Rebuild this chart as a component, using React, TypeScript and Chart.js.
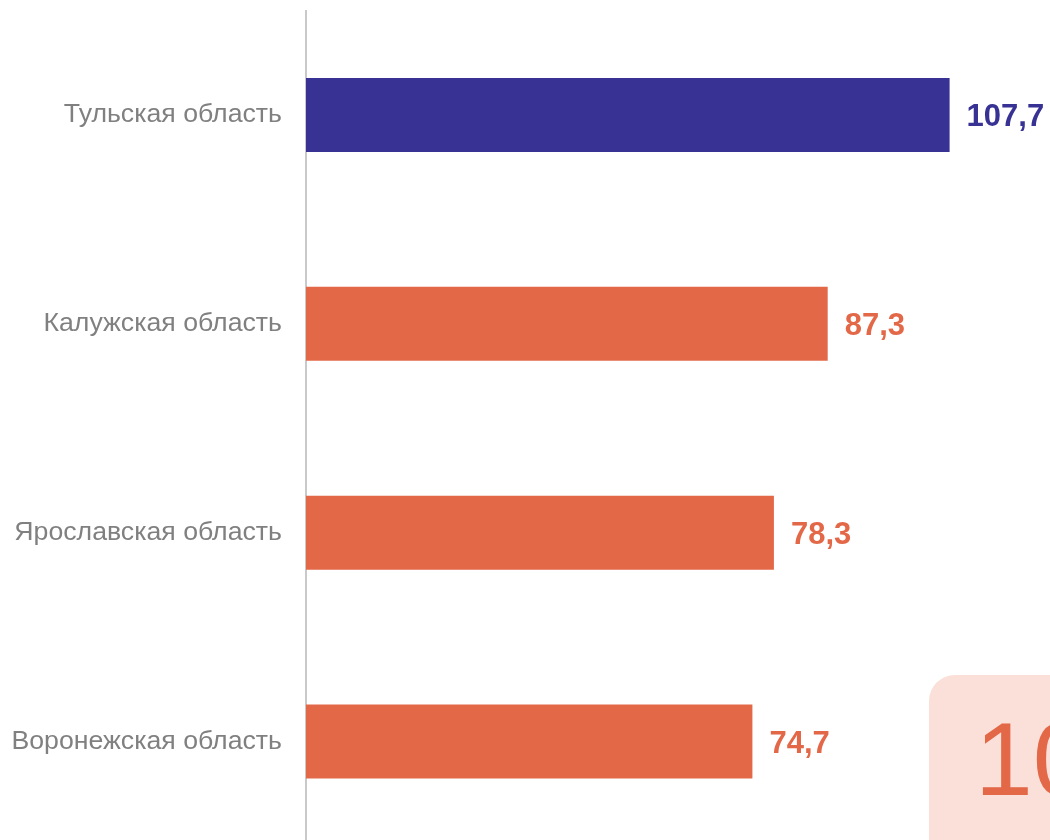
import React, { useEffect, useRef } from "react";
import { Chart, registerables } from "chart.js";

Chart.register(...registerables);

const categories: string[] = [
  "Тульская область",
  "Калужская область",
  "Ярославская область",
  "Воронежская область",
];
const values: number[] = [107.7, 87.3, 78.3, 74.7];
const barColors: string[] = ["#373294", "#e36848", "#e36848", "#e36848"];
const badgeText = "10";

const FONT = '"Liberation Sans", Arial, sans-serif';

const valueLabelPlugin = {
  id: "valueLabels",
  afterDatasetsDraw(chart: any) {
    const ctx = chart.ctx;
    const meta = chart.getDatasetMeta(0);
    ctx.save();
    ctx.font = `bold 31px ${FONT}`;
    ctx.textAlign = "left";
    ctx.textBaseline = "middle";
    meta.data.forEach((bar: any, i: number) => {
      ctx.fillStyle = barColors[i];
      ctx.fillText(values[i].toFixed(1).replace(".", ","), bar.x + 17, bar.y + 3);
    });
    ctx.restore();
  },
};

export default function App() {
  const ref = useRef<HTMLCanvasElement | null>(null);
  useEffect(() => {
    if (!ref.current) return;
    const chart = new Chart(ref.current, {
      type: "bar",
      data: {
        labels: categories,
        datasets: [
          {
            data: values,
            backgroundColor: barColors,
            borderWidth: 0,
            categoryPercentage: 1,
            barPercentage: 0.354,
          },
        ],
      },
      options: {
        indexAxis: "y",
        animation: false,
        responsive: true,
        maintainAspectRatio: false,
        layout: { padding: { top: 10.5, bottom: 4, left: 0, right: 0 } },
        plugins: {
          legend: { display: false },
          tooltip: { enabled: false },
        },
        scales: {
          x: {
            display: false,
            min: 0,
            max: 124.5,
          },
          y: {
            afterFit(scale: any) {
              scale.width = 306;
              scale.paddingTop = 0;
              scale.paddingBottom = 0;
            },
            grid: { display: false, drawTicks: false },
            border: { display: true, color: "#c9c9c9", width: 2 },
            ticks: {
              padding: 24,
              color: "#808080",
              font: { family: FONT, size: 26.7 },
            },
          },
        },
      },
      plugins: [valueLabelPlugin],
    });
    return () => chart.destroy();
  }, []);

  return (
    <div
      style={{
        position: "fixed",
        left: 0,
        top: 0,
        width: 1050,
        height: 840,
        overflow: "hidden",
        background: "#ffffff",
      }}
    >
      <div style={{ position: "absolute", left: 0, top: 0, width: 1050, height: 850 }}>
        <canvas ref={ref} />
      </div>
      <div
        style={{
          position: "absolute",
          left: 929,
          top: 675,
          width: 220,
          height: 220,
          borderRadius: 26,
          background: "#fbe0d9",
        }}
      >
        <div
          style={{
            position: "absolute",
            left: 46,
            top: 24,
            fontFamily: FONT,
            fontSize: 104,
            lineHeight: "120px",
            color: "#e36848",
            whiteSpace: "nowrap",
          }}
        >
          {badgeText}
        </div>
      </div>
    </div>
  );
}
